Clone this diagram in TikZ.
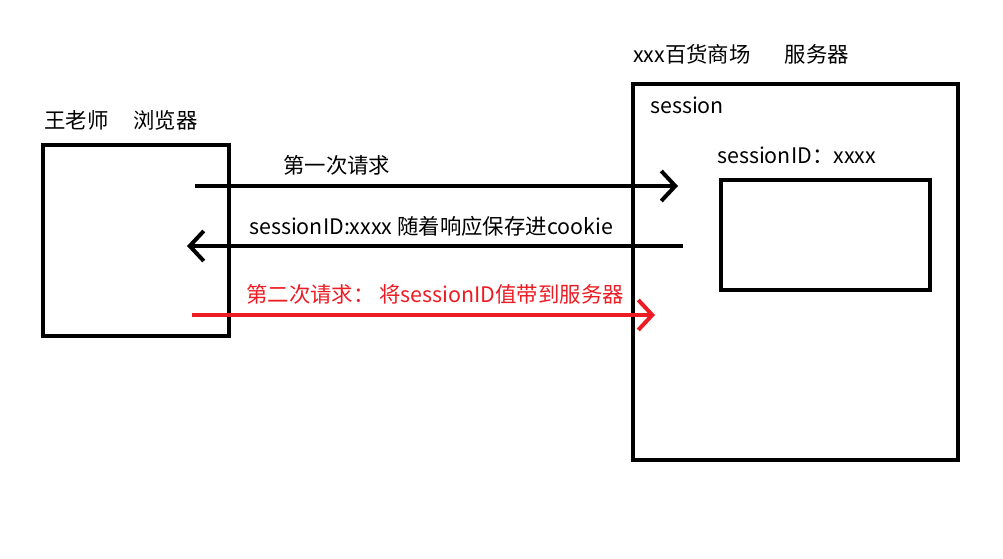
\documentclass[tikz,border=0pt]{standalone}
\usepackage{fontspec}
\setmainfont{Noto Sans CJK SC}
\usetikzlibrary{arrows.meta, positioning}
\definecolor{qingqiu}{RGB}{237,28,36}
\tikzstyle{kuang} = [draw=black, line width=4.5pt, anchor=north west, inner sep=0pt, outer sep=0pt]
\tikzstyle{wenzi} = [inner sep=0pt, anchor=west, font=\fontsize{21.4}{24}\selectfont]
\tikzstyle{jiantou} = [line width=4pt, -{Straight Barb[length=14pt, width=30pt, line width=4pt]}]
\tikzstyle{hongse} = [color=qingqiu]

\begin{document}
\begin{tikzpicture}[x=1pt, y=-1pt]
	\useasboundingbox (0,0) rectangle (1003,559);
	% liulanqi
	\node [kuang, minimum width=186pt, minimum height=191pt] (browser) at (43,145) {};
	\node [wenzi] (browsertitle) at (44,120) {王老师\hspace{25pt}浏览器};
	% fuwuqi
	\node [kuang, minimum width=325pt, minimum height=376pt] (server) at (633,84) {};
	\node [wenzi] (servertitle) at (633,54) {xxx百货商场\hspace{34pt}服务器};
	\node [wenzi] (session) at (650,105) {session};
	\node [wenzi] (sidlabel) at (717,155) {sessionID：xxxx};
	\node [kuang, minimum width=209pt, minimum height=110pt] (sidbox) at (721,180) {};
	% qingqiu
	\coordinate (a1) at (195,186);
	\coordinate (b1) at (678,186);
	\draw [jiantou] (a1) -- (b1);
	\node [wenzi] (first) at (283,165) {第一次请求};
	\coordinate (a2) at (683,246);
	\coordinate (b2) at (187,246);
	\draw [jiantou] (a2) -- (b2);
	\node [wenzi] (reply) at (249,226) {sessionID:xxxx 随着响应保存进cookie};
	\coordinate (a3) at (192,315);
	\coordinate (b3) at (655,315);
	\draw [jiantou, hongse] (a3) -- (b3);
	\node [wenzi, hongse] (second) at (246,294) {第二次请求： 将sessionID值带到服务器};
\end{tikzpicture}
\end{document}
